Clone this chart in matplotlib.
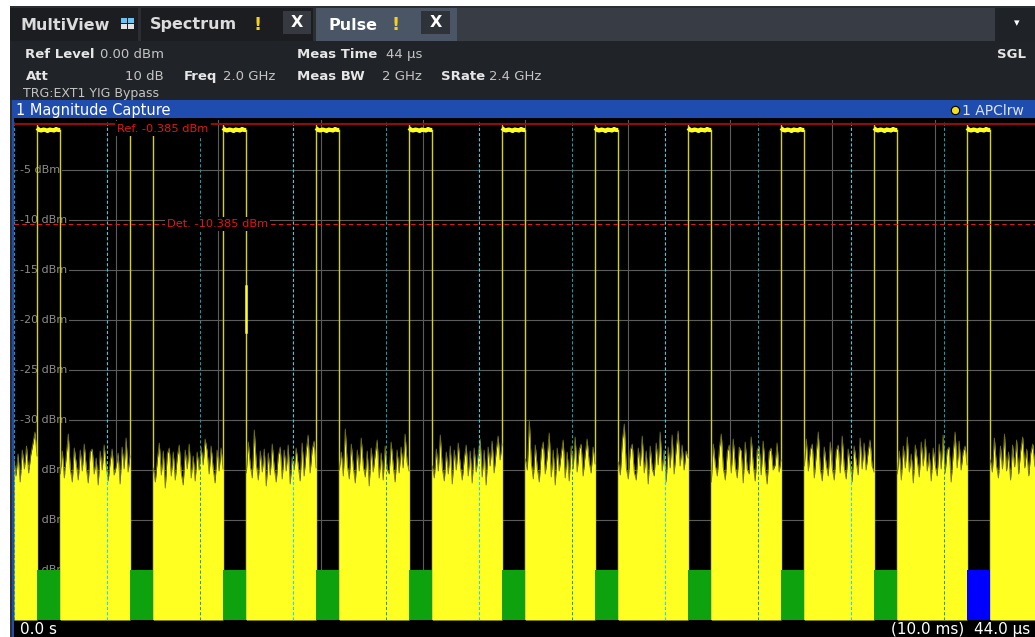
import numpy as np
import matplotlib
matplotlib.use("Agg")
import matplotlib.pyplot as plt
from matplotlib.patches import Rectangle
from matplotlib.lines import Line2D

W, H = 1035, 637

# ---------------- trace data ----------------
pulse_start_us = [1.0, 5.0, 9.0, 13.0, 17.0, 21.0, 25.0, 29.0, 33.0, 37.0, 41.0]
pulse_width_us = 1.0
pulse_rise_db = -0.45
pulse_top_db = [-0.8, -1.0, -1.05, -0.95, -1.0, -1.1, -0.95, -1.0, -1.05, -0.9, -1.0, -1.0]
selected_pulse = 10

# a bright bit on the falling edge of pulse 3
glitch_us = [10.0]
glitch_top_db = [-16.6]
glitch_bot_db = [-21.2]

noise_spans_us = [(0, 1), (2, 5), (6, 9), (10, 13), (14, 17), (18, 21),
                  (22, 25), (26, 29), (30, 33), (34, 37), (38, 41), (42, 44)]
noise_db = [
    [-33.8, -35.6, -33.4, -36.2, -33.0, -34.9, -32.6, -35.3, -33.5, -32.4, -31.2, -33.6],
    [-35.4, -33.1, -35.8, -33.5, -31.4, -34.9, -36.2, -32.8, -34.4, -36.0, -33.0, -35.1,
     -32.4, -34.7, -36.3, -33.2, -32.9, -35.4, -33.8, -36.5, -33.1, -35.0, -32.5, -34.6,
     -36.1, -34.2, -32.9, -35.5, -34.7, -33.3, -36.4, -32.7, -34.9, -31.8, -35.2, -33.6],
    [-34.8, -36.2, -34.0, -32.3, -35.5, -33.1, -36.8, -33.4, -32.8, -35.6, -33.2, -36.0,
     -33.7, -32.5, -35.3, -36.5, -33.0, -34.9, -32.4, -35.8, -33.6, -36.1, -33.2, -35.0,
     -32.7, -34.5, -31.9, -33.1, -35.4, -32.6, -34.8, -36.3, -33.0, -35.1, -32.8, -34.9],
    [-35.3, -32.2, -34.6, -35.8, -31.0, -34.4, -36.0, -33.1, -35.2, -32.9, -36.6, -33.3,
     -35.5, -32.4, -34.8, -36.2, -33.6, -32.7, -35.9, -33.0, -35.1, -32.5, -36.4, -33.7,
     -35.0, -32.8, -34.5, -36.1, -32.3, -35.6, -33.2, -31.5, -35.3, -33.0, -32.1, -34.8],
    [-35.0, -33.2, -35.6, -30.9, -34.5, -35.9, -32.4, -34.7, -36.3, -33.0, -35.1, -31.8,
     -34.6, -35.7, -33.1, -36.6, -32.8, -35.2, -33.4, -32.0, -35.8, -33.3, -36.0, -32.6,
     -34.9, -35.4, -32.2, -34.5, -36.2, -33.0, -35.3, -32.7, -34.8, -31.4, -34.2, -35.1],
    [-34.6, -35.8, -32.9, -35.1, -31.5, -34.8, -36.1, -33.2, -35.4, -32.6, -36.4, -33.0,
     -35.0, -32.3, -34.5, -36.0, -33.9, -32.5, -35.6, -33.1, -36.3, -32.8, -35.2, -33.4,
     -31.9, -35.7, -33.0, -36.5, -32.7, -34.6, -32.1, -35.3, -33.2, -31.6, -34.0, -32.4],
    [-33.9, -35.0, -30.0, -34.3, -35.9, -32.5, -34.8, -36.2, -33.1, -32.2, -35.4, -33.6,
     -31.3, -35.7, -33.0, -36.5, -32.8, -35.1, -33.4, -32.0, -35.8, -33.2, -36.1, -32.6,
     -34.9, -31.7, -35.2, -33.0, -32.4, -35.6, -33.5, -31.9, -34.1, -35.3, -32.7, -34.4],
    [-34.2, -35.5, -32.1, -30.4, -34.8, -35.9, -33.0, -32.4, -35.2, -36.0, -32.8, -34.6,
     -31.6, -35.3, -33.1, -36.4, -32.6, -34.9, -35.6, -32.3, -34.5, -31.2, -35.1, -33.0,
     -36.2, -32.7, -34.8, -31.5, -35.4, -32.9, -31.1, -34.6, -32.5, -35.0, -33.1, -33.8],
    [-36.2, -32.4, -34.5, -35.6, -32.9, -31.4, -34.8, -36.0, -33.2, -32.5, -35.3, -31.9,
     -34.6, -35.8, -32.7, -33.1, -36.3, -32.2, -34.9, -35.4, -31.7, -34.4, -36.1, -33.0,
     -32.6, -35.5, -32.1, -34.7, -36.4, -33.2, -32.8, -35.0, -34.5, -32.3, -35.2, -34.0],
    [-34.6, -31.9, -35.1, -33.0, -32.4, -35.8, -33.3, -31.2, -34.9, -36.1, -32.7, -34.5,
     -35.6, -32.2, -34.8, -36.0, -33.1, -32.5, -35.3, -31.6, -34.7, -35.9, -32.9, -34.4,
     -36.2, -32.6, -34.1, -35.5, -31.8, -34.9, -32.3, -35.0, -33.2, -32.0, -34.6, -35.2],
    [-35.4, -33.1, -36.0, -32.6, -34.8, -31.7, -35.2, -33.4, -36.3, -32.5, -34.0, -35.7,
     -32.2, -34.6, -31.9, -35.1, -33.3, -36.1, -32.8, -34.5, -35.6, -32.4, -34.9, -31.5,
     -35.3, -33.0, -32.7, -36.2, -33.4, -31.2, -34.8, -32.1, -35.0, -33.2, -32.6, -34.5],
    [-34.0, -35.2, -31.8, -34.5, -35.8, -32.6, -34.9, -31.4, -35.1, -33.2, -36.0, -32.5,
     -34.7, -32.0, -35.4, -33.1, -31.7, -34.8, -32.9, -35.6, -33.3, -32.4, -34.6, -35.0],
]

period_marks_us = [0, 4, 8, 12, 16, 20, 24, 28, 32, 36, 40]
grid_us = [4.4, 8.8, 13.2, 17.6, 22.0, 26.4, 30.8, 35.2, 39.6]
grid_db = [-5, -10, -15, -20, -25, -30, -35, -40, -45]
ref_db = -0.385
det_db = -10.385
x_range_us = (0, 44)
y_range_db = (-50, 0)

# ---------------- colours ----------------
YEL = "#ffff22"
OLIVE = "#74740e"
EDGE = "#d2d21e"
GRID = "#5c5c5c"
GREEN = "#0ea30e"
BLUE = "#0000ff"
RED = "#e01818"
DARKRED = "#920c0c"


def box(x0, y0, x1, y1, color, z=-2):
    fig.patches.append(Rectangle((x0 / W, 1 - y1 / H), (x1 - x0) / W, (y1 - y0) / H,
                                 transform=fig.transFigure, facecolor=color,
                                 edgecolor="none", zorder=z))


def label(x, y, s, **kw):
    kw.setdefault("va", "baseline")
    fig.text(x / W, 1 - y / H, s, **kw)


fig = plt.figure(figsize=(W / 100, H / 100), dpi=100)
fig.patch.set_facecolor("white")

# ---------------- window chrome ----------------
box(10, 6, W, H, "#2b2e33")
box(10, 8, 138, 41, "#1b1d21")
box(141, 8, 313, 41, "#1b1d21")
box(316, 8, 457, 41, "#4a5666")
box(457, 8, 995, 41, "#383d45")
box(995, 8, W, 41, "#1f2226")
box(10, 41, W, 100, "#202327")
box(12, 100, W, 118, "#1e4caf")
box(12, 118, W, H, "black")
box(12, 100, 14, H, "#1e4caf")

tab = dict(fontsize=11.5, fontweight="bold", color="#dcdcdc")
label(20, 29.5, "MultiView", **tab)
box(121, 18, 127, 23, "#6cc2f0", z=-1)
box(128, 18, 134, 23, "#6cc2f0", z=-1)
box(121, 24, 127, 29, "#e4e4e4", z=-1)
box(128, 24, 134, 29, "#e4e4e4", z=-1)
label(150, 29.5, "Spectrum", **tab)
label(253, 29.5, "!", fontsize=13, fontweight="bold", color="#f2d21e")
box(283, 11, 311, 34, "#363a40", z=-1)
label(297, 22.5, "X", ha="center", va="center", fontsize=11.5, fontweight="bold", color="white")
label(329, 29.5, "Pulse", fontsize=11.5, fontweight="bold", color="white")
label(391, 29.5, "!", fontsize=13, fontweight="bold", color="#f2d21e")
box(421, 11, 450, 34, "#2e333a", z=-1)
label(435.5, 22.5, "X", ha="center", va="center", fontsize=11.5, fontweight="bold", color="white")
label(1017, 23, "\u25be", ha="center", va="center", fontsize=8, color="white")

b = dict(fontsize=9.5, fontweight="bold", color="#e6e6e6")
n = dict(fontsize=9.5, color="#c4c4c4")
label(25, 58, "Ref Level", **b)
label(100, 58, "0.00 dBm", **n)
label(297, 58, "Meas Time", **b)
label(386, 58, "44 \u00b5s", **n)
label(1026, 58, "SGL", ha="right", **b)
label(26, 80, "Att", **b)
label(164, 80, "10 dB", ha="right", **n)
label(184, 80, "Freq", **b)
label(223, 80, "2.0 GHz", **n)
label(297, 80, "Meas BW", **b)
label(382, 80, "2 GHz", **n)
label(441, 80, "SRate", **b)
label(489, 80, "2.4 GHz", **n)
label(23, 97, "TRG:EXT1 YIG Bypass", fontsize=9, color="#c4c4c4")

label(16, 115, "1 Magnitude Capture", fontsize=10.5, color="white")
fig.add_artist(Line2D([955 / W], [1 - 110 / H], marker="o", ms=6, mfc="#f0e020",
                      mec="black", mew=0.8, transform=fig.transFigure))
label(962, 115, "1 APClrw", fontsize=10, color="#dde3f0")

label(20, 634, "0.0 s", fontsize=11, color="white")
label(1030, 634, "(10.0 ms)  44.0 \u00b5s", ha="right", fontsize=11, color="white")

# ---------------- plot area ----------------
ax = fig.add_axes([13.8 / W, 1 - 620 / H, (1036.8 - 13.8) / W, 500 / H])
ax.set_xlim(*x_range_us)
ax.set_ylim(*y_range_db)
ax.set_facecolor("black")
for s in ax.spines.values():
    s.set_visible(False)
ax.set_xticks([])
ax.set_yticks([])

for g in grid_db:
    ax.axhline(g, color=GRID, lw=0.8, zorder=1)
    ax.text(0.27, g, f"{g} dBm", color="#8c8c8c", fontsize=8, va="center", ha="left",
            zorder=1.5, bbox=dict(fc="black", ec="none", pad=1.2))
for g in grid_us:
    ax.axvline(g, color=GRID, lw=0.8, zorder=1)

# noise between pulses
for (a, e), vals in zip(noise_spans_us, noise_db):
    t = np.linspace(a, e, len(vals))
    ax.fill_between(t, y_range_db[0], vals, color=YEL, lw=0, zorder=3)
    ax.plot(t, vals, color=OLIVE, lw=0.6, zorder=3.1)

# pulses
for ts in pulse_start_us:
    te = ts + pulse_width_us
    ax.plot([ts, ts], [y_range_db[0], pulse_rise_db], color=EDGE, lw=1.0, zorder=2.5)
    tp = np.linspace(ts, te, len(pulse_top_db))
    ax.plot(tp, pulse_top_db, color=YEL, lw=3.0, solid_capstyle="butt", zorder=2.6)
    ax.plot([te, te], [pulse_top_db[-1], y_range_db[0]], color=EDGE, lw=1.0, zorder=2.5)

for t, y0, y1 in zip(glitch_us, glitch_top_db, glitch_bot_db):
    ax.plot([t, t], [y0, y1], color=YEL, lw=1.8, zorder=2.7)

# period markers
for i, t in enumerate(period_marks_us):
    c = "#10e0f0" if i % 2 else "#1a9aa2"
    ax.axvline(t, color=c, lw=0.75, ls=(0, (3, 2)), zorder=3.5)

# pulse markers at the bottom
colors = [BLUE if i == selected_pulse else GREEN for i in range(len(pulse_start_us))]
ax.bar(pulse_start_us, 5, width=pulse_width_us, bottom=y_range_db[0], align="edge",
       color=colors, lw=0, zorder=4)

# reference / detection lines
ax.axhline(ref_db, color=DARKRED, lw=1.5, zorder=5)
ax.text(4.45, -0.85, f"Ref. {ref_db} dBm", color=RED, fontsize=8.2, va="center",
        zorder=6, bbox=dict(fc="black", ec="none", pad=2.0))
ax.axhline(det_db, color=RED, lw=0.8, ls=(0, (4, 3)), zorder=5)
ax.text(6.6, det_db, f"Det. {det_db} dBm", color=RED, fontsize=8.2, va="center",
        zorder=6, bbox=dict(fc="black", ec="none", pad=1.5))

fig.savefig("out.png", dpi=100, facecolor="white")
